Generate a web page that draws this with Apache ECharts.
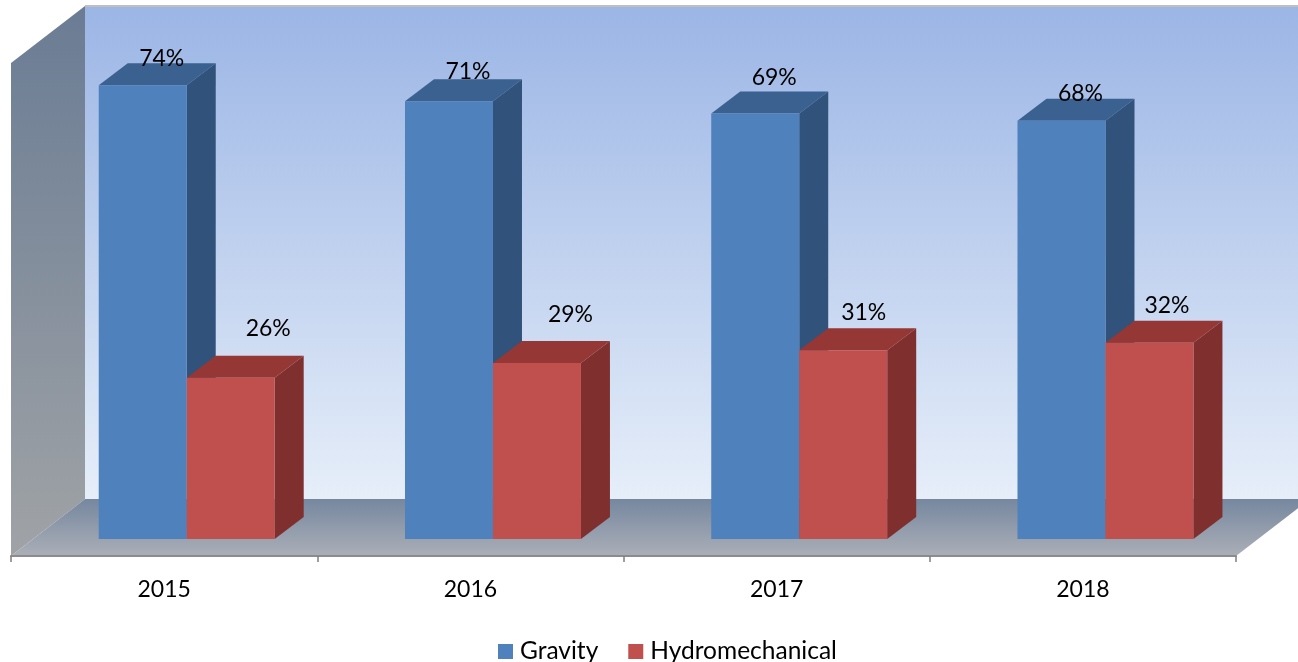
<!DOCTYPE html>
<html><head><meta charset="utf-8">
<style>html,body{margin:0;padding:0;background:#fff}#c{width:1298px;height:662px}</style>
<script src="https://cdn.jsdelivr.net/npm/echarts@6/dist/echarts.min.js"></script>
</head><body><div id="c"></div>
<script>
const categories = ['2015', '2016', '2017', '2018'];
const gravity = [74, 71.4, 69.4, 68.2];
const hydromechanical = [26.3, 28.7, 30.8, 32];

// layout and style, kept apart from the values
const FONT = 'Lato';
const WALL = { dx: 74, dy: 57 };
const BAR = { dx: 29, dy: 22, floorDx: 22.6, floorDy: 17, widthRatio: 0.2873 };
const gravityLabelLift = [27, 30, 36, 27];
const gravityLabelShift = [4.5, 4.5, 4.5, 4.5];
const hydroLabelLift = [49, 48, 38, 37];
const hydroLabelShift = [23, 19, 6, 3];
const gravityColors = { front: '#4F81BD', top: '#3B6190', side: '#31527B' };
const hydroColors = { front: '#C0504D', top: '#953735', side: '#7F302E' };
const yMax = 80.4;

function grad(a, b) {
  return { type: 'linear', x: 0, y: 0, x2: 0, y2: 1, colorStops: [{ offset: 0, color: a }, { offset: 1, color: b }] };
}
function poly(points, fill, z) {
  return { type: 'polygon', shape: { points }, style: { fill }, z2: z || 0 };
}

function renderWalls(params, api) {
  const cs = params.coordSys;
  const l = cs.x, r = cs.x + cs.width, t = cs.y, b = cs.y + cs.height;
  const d = WALL;
  return { type: 'group', children: [
    poly([[l + d.dx, t - d.dy], [r + d.dx, t - d.dy], [r + d.dx, b - d.dy], [l + d.dx, b - d.dy]], grad('#9BB5E5', '#E6EEF9')),
    { type: 'line', shape: { x1: l + d.dx, y1: t - d.dy, x2: r + d.dx, y2: t - d.dy }, style: { stroke: '#BFBFBF', lineWidth: 2 } },
    poly([[l, t], [l + d.dx, t - d.dy], [l + d.dx, b - d.dy], [l, b]], grad('#6A7C94', '#A0A3A6')),
    poly([[l, b], [r, b], [r + d.dx, b - d.dy], [l + d.dx, b - d.dy]], grad('#76879F', '#ABAFB7'))
  ] };
}

function barRenderer(side, colors, lifts, shifts) {
  return function (params, api) {
    const i = api.value(0), v = api.value(1);
    const top = api.coord([i, v]), base = api.coord([i, 0]);
    const w = api.size([1, 0])[0] * BAR.widthRatio;
    const x0 = base[0] + BAR.floorDx + (side < 0 ? -w : 0), x1 = x0 + w;
    const yt = top[1] - BAR.floorDy, yb = base[1] - BAR.floorDy;
    const dx = BAR.dx, dy = BAR.dy;
    return { type: 'group', children: [
      poly([[x1, yt], [x1 + dx, yt - dy], [x1 + dx, yb - dy], [x1, yb]], colors.side),
      poly([[x0, yt], [x0 + dx, yt - dy], [x1 + dx, yt - dy], [x1, yt]], colors.top),
      poly([[x0, yt], [x1, yt], [x1, yb], [x0, yb]], colors.front),
      { type: 'text', z2: 5, style: {
        text: Math.round(v) + '%', x: (x0 + x1) / 2 + dx / 2 + shifts[i],
        y: yt - lifts[i], align: 'center', verticalAlign: 'middle',
        font: '23px ' + FONT, fill: '#000' } }
    ] };
  };
}

const chart = echarts.init(document.getElementById('c'), null, { renderer: 'canvas' });
chart.setOption({
  animation: false,
  backgroundColor: '#fff',
  textStyle: { fontFamily: FONT },
  grid: { left: 11, right: 62, top: 63, bottom: 106 },
  xAxis: { type: 'category', data: categories, z: 6,
    axisLine: { show: true, lineStyle: { color: '#8C8C8C', width: 2 } },
    axisTick: { show: true, length: 6, lineStyle: { color: '#7F7F7F', width: 1.5 } },
    axisLabel: { color: '#000', fontSize: 23, fontFamily: FONT, margin: 22 } },
  yAxis: { type: 'value', min: 0, max: yMax, show: false, splitLine: { show: false } },
  legend: { left: 493, top: 634, icon: 'rect', itemWidth: 15, itemHeight: 15, itemGap: 30,
    data: ['Gravity', 'Hydromechanical'],
    textStyle: { color: '#000', fontSize: 24.5, fontFamily: FONT, padding: [0, 0, 0, 2] } },
  series: [
    { type: 'custom', name: 'walls', silent: true, z: 1, renderItem: renderWalls, data: [[0, 0]], encode: { x: 0, y: 1 }, clip: false },
    { type: 'custom', name: 'Gravity', z: 2, itemStyle: { color: gravityColors.front },
      renderItem: barRenderer(-1, gravityColors, gravityLabelLift, gravityLabelShift),
      data: gravity.map((v, i) => [i, v]), encode: { x: 0, y: 1 } },
    { type: 'custom', name: 'Hydromechanical', z: 3, itemStyle: { color: hydroColors.front },
      renderItem: barRenderer(1, hydroColors, hydroLabelLift, hydroLabelShift),
      data: hydromechanical.map((v, i) => [i, v]), encode: { x: 0, y: 1 } }
  ]
});
</script></body></html>
